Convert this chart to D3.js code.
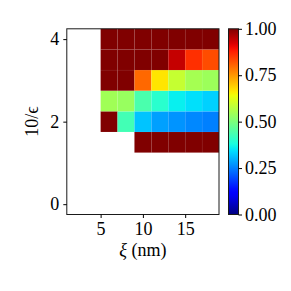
<!DOCTYPE html>
<html><head><meta charset="utf-8">
<script src="https://cdn.jsdelivr.net/npm/d3@7"></script>
<style>
html,body{margin:0;padding:0;background:#fff;}
text{font-family:"Liberation Serif","DejaVu Serif",serif;fill:#000;}
</style></head>
<body><svg id="c" width="291" height="291"></svg>
<script>
// ---- data ----
const xCenters = [6, 8, 10, 12, 14, 16, 18];          // ξ (nm)
const yCenters = [1.5, 2, 2.5, 3, 3.5, 4];            // 10/ϵ
const row15 = [null, null, 1, 1, 1, 1, 1];
const row20 = [1, 0.43, 0.317, 0.282, 0.27, 0.258, 0.25];
const row25 = [0.545, 0.535, 0.44, 0.40, 0.36, 0.345, 0.33];
const row30 = [1, 1, 0.80, 0.667, 0.59, 0.55, 0.54];
const row35 = [1, 1, 1, 1, 0.94, 0.86, 0.83];
const row40 = [1, 1, 1, 1, 1, 1, 1];
const rows = [row15, row20, row25, row30, row35, row40];
const xTicks = [5, 10, 15];
const yTicks = [0, 2, 4];
const cbTicks = [0, 0.25, 0.5, 0.75, 1];

// ---- jet colormap ----
const rS = d3.scaleLinear().domain([0,0.35,0.66,0.89,1]).range([0,0,1,1,0.5]).clamp(true);
const gS = d3.scaleLinear().domain([0,0.125,0.375,0.64,0.91,1]).range([0,0,1,1,0,0]).clamp(true);
const bS = d3.scaleLinear().domain([0,0.11,0.34,0.65,1]).range([0.5,1,1,0,0]).clamp(true);
const jet = v => d3.rgb(255*rS(v), 255*gS(v), 255*bS(v)).toString();

const svg = d3.select("#c");
const L = 66.8, R = 219, T = 28.8, B = 214.5;
const x = d3.scaleLinear().domain([1, 19]).range([L, R]);
const y = d3.scaleLinear().domain([-0.25, 4.25]).range([B, T]);
const dx = 1, dy = 0.25;

const cells = [];
rows.forEach((row, i) => row.forEach((v, j) => {
  if (v !== null) cells.push({x: xCenters[j], y: yCenters[i], v});
}));

svg.append("g").selectAll("rect").data(cells).join("rect")
  .attr("x", d => x(d.x - dx))
  .attr("y", d => y(d.y + dy))
  .attr("width", d => x(d.x + dx) - x(d.x - dx))
  .attr("height", d => y(d.y - dy) - y(d.y + dy))
  .attr("fill", d => jet(d.v))
  .attr("stroke", "rgba(255,255,255,0.06)")
  .attr("stroke-width", 0.5);

// frame
svg.append("rect").attr("x", L).attr("y", T).attr("width", R - L).attr("height", B - T)
  .attr("fill", "none").attr("stroke", "#1a1a1a").attr("stroke-width", 1);

const fs = 18;
// x axis
const xa = svg.append("g").attr("transform", `translate(0,${B})`)
  .call(d3.axisBottom(x).tickValues(xTicks).tickSize(3.5).tickPadding(4).tickFormat(d3.format("d")));
xa.select(".domain").remove();
xa.selectAll("text").style("font-size", fs + "px");
// y axis
const ya = svg.append("g").attr("transform", `translate(${L},0)`)
  .call(d3.axisLeft(y).tickValues(yTicks).tickSize(3.5).tickPadding(4).tickFormat(d3.format("d")));
ya.select(".domain").remove();
ya.selectAll("text").style("font-size", fs + "px");

// labels
const xl = svg.append("text").attr("x", (L + R) / 2).attr("y", 256)
  .attr("text-anchor", "middle").style("font-size", fs + "px");
xl.append("tspan").attr("font-style", "italic").text("ξ");
xl.append("tspan").text(" (nm)");
svg.append("text").attr("transform", `translate(38,${(T + B) / 2}) rotate(-90)`)
  .attr("text-anchor", "middle").style("font-size", fs + "px").text("10/ϵ");

// colorbar
const cL = 228.5, cW = 10;
const cy = d3.scaleLinear().domain([0, 1]).range([B, T]);
const grad = svg.append("defs").append("linearGradient").attr("id", "jetg")
  .attr("x1", 0).attr("y1", 1).attr("x2", 0).attr("y2", 0);
d3.range(0, 1.0001, 0.02).forEach(t => grad.append("stop").attr("offset", t).attr("stop-color", jet(t)));
svg.append("rect").attr("x", cL).attr("y", T).attr("width", cW).attr("height", B - T)
  .attr("fill", "url(#jetg)").attr("stroke", "#1a1a1a").attr("stroke-width", 1);
const ca = svg.append("g").attr("transform", `translate(${cL + cW},0)`)
  .call(d3.axisRight(cy).tickValues(cbTicks).tickSize(3.5).tickPadding(3).tickFormat(d3.format(".2f")));
ca.select(".domain").remove();
ca.selectAll("text").style("font-size", fs + "px");
svg.selectAll(".tick line").attr("stroke", "#000").attr("stroke-width", 1);
</script></body></html>
